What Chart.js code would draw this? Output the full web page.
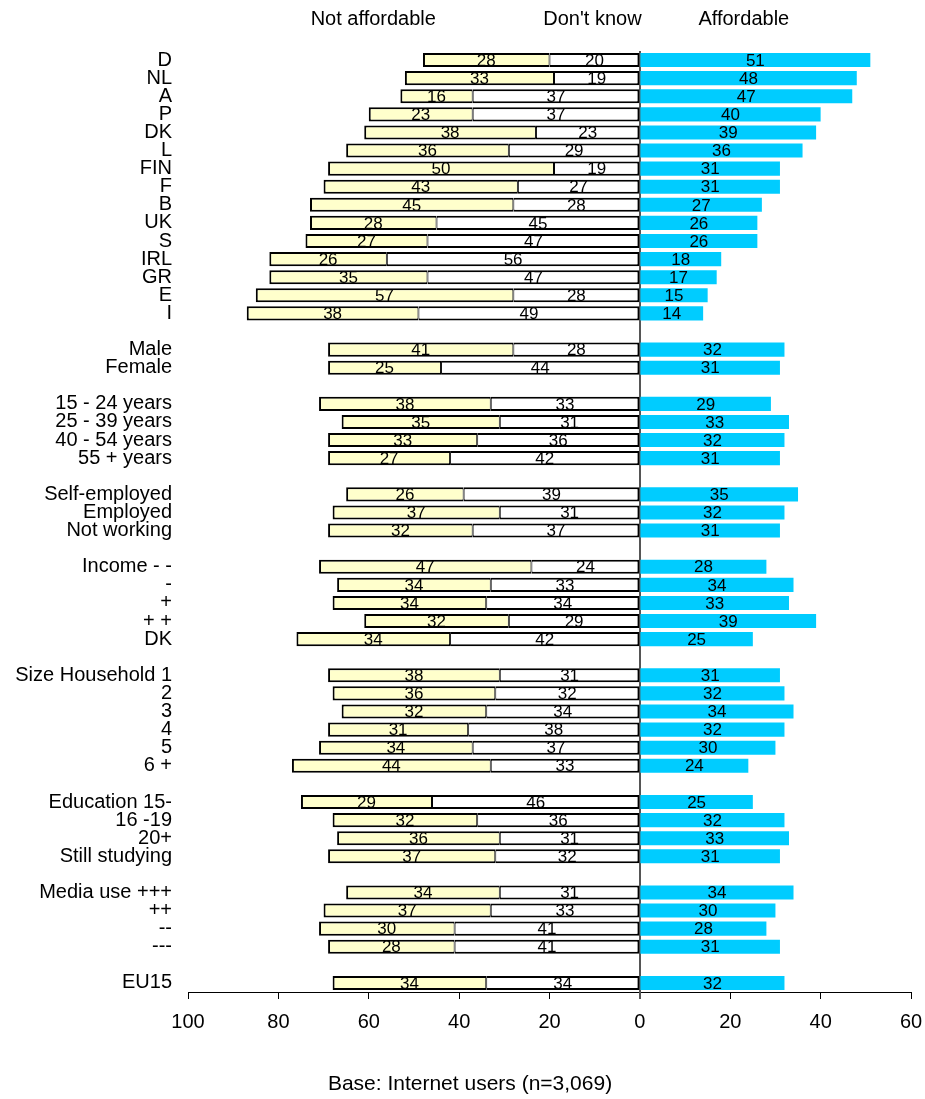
<!DOCTYPE html>
<html>
<head>
<meta charset="utf-8">
<script src="https://cdn.jsdelivr.net/npm/chart.js@4.4.1/dist/chart.umd.min.js"></script>
<style>
  html, body { margin: 0; padding: 0; background: #fff; }
</style>
</head>
<body>
<canvas id="chart" width="925" height="1099"></canvas>
<script>
// --- DATA (blank strings / nulls are the gaps between groups) ---
const categories = [
  'D', 'NL', 'A', 'P', 'DK', 'L', 'FIN', 'F', 'B', 'UK', 'S', 'IRL', 'GR', 'E', 'I', '',
  'Male', 'Female', '',
  '15 - 24 years', '25 - 39 years', '40 - 54 years', '55 + years', '',
  'Self-employed', 'Employed', 'Not working', '',
  'Income - -', '-', '+', '+ +', 'DK', '',
  'Size Household 1', '2', '3', '4', '5', '6 +', '',
  'Education 15-', '16 -19', '20+', 'Still studying', '',
  'Media use +++', '++', '--', '---', '',
  'EU15'
];

const notAffordable = [
  28, 33, 16, 23, 38, 36, 50, 43, 45, 28, 27, 26, 35, 57, 38, null,
  41, 25, null,
  38, 35, 33, 27, null,
  26, 37, 32, null,
  47, 34, 34, 32, 34, null,
  38, 36, 32, 31, 34, 44, null,
  29, 32, 36, 37, null,
  34, 37, 30, 28, null,
  34
];

const dontKnow = [
  20, 19, 37, 37, 23, 29, 19, 27, 28, 45, 47, 56, 47, 28, 49, null,
  28, 44, null,
  33, 31, 36, 42, null,
  39, 31, 37, null,
  24, 33, 34, 29, 42, null,
  31, 32, 34, 38, 37, 33, null,
  46, 36, 31, 32, null,
  31, 33, 41, 41, null,
  34
];

const affordable = [
  51, 48, 47, 40, 39, 36, 31, 31, 27, 26, 26, 18, 17, 15, 14, null,
  32, 31, null,
  29, 33, 32, 31, null,
  35, 32, 31, null,
  28, 34, 33, 39, 25, null,
  31, 32, 34, 32, 30, 24, null,
  25, 32, 33, 31, null,
  34, 30, 28, 31, null,
  32
];

const xTicks = [-100, -80, -60, -40, -20, 0, 20, 40, 60];
const headerLabels = ['Not affordable', "Don't know", 'Affordable'];
const baseNote = 'Base: Internet users (n=3,069)';

const FONT = '"Liberation Sans", Arial, Helvetica, sans-serif';
const COLORS = {
  notAffordable: '#FFFFCC',
  dontKnow: '#FFFFFF',
  affordable: '#00CCFF',
  border: '#000000',
  zeroLine: '#555555'
};

// left-hand values are drawn as negatives so they grow away from 0
const neg = arr => arr.map(v => (v == null ? null : -v));

// numbers in the middle of each segment
const barLabels = {
  id: 'barLabels',
  afterDatasetsDraw(chart) {
    const ctx = chart.ctx;
    ctx.save();
    ctx.font = '17px ' + FONT;
    ctx.fillStyle = '#000';
    ctx.textAlign = 'center';
    ctx.textBaseline = 'middle';
    chart.data.datasets.forEach((ds, i) => {
      chart.getDatasetMeta(i).data.forEach((bar, j) => {
        const v = ds.data[j];
        if (v == null) return;
        const { x, y, base } = bar.getProps(['x', 'y', 'base'], true);
        ctx.fillText(String(Math.abs(v)), (x + base) / 2, y + 1);
      });
    });
    ctx.restore();
  }
};

// zero line, column headers and the base note
const decorations = {
  id: 'decorations',
  beforeDatasetsDraw(chart) {
    const { ctx, chartArea, scales } = chart;
    const x0 = Math.round(scales.x.getPixelForValue(0));
    ctx.save();
    ctx.strokeStyle = COLORS.zeroLine;
    ctx.lineWidth = 2;
    ctx.beginPath();
    ctx.moveTo(x0, chartArea.top);
    ctx.lineTo(x0, chartArea.bottom + 7);
    ctx.stroke();
    ctx.restore();
  },
  afterDraw(chart) {
    const { ctx, scales } = chart;
    const headerAt = [-59, -10.5, 23]; // centre of each header, in axis units
    ctx.save();
    ctx.font = '20px ' + FONT;
    ctx.fillStyle = '#000';
    ctx.textAlign = 'center';
    ctx.textBaseline = 'middle';
    headerLabels.forEach((t, i) => {
      ctx.fillText(t, scales.x.getPixelForValue(headerAt[i]), 19);
    });
    ctx.font = '21px ' + FONT;
    ctx.fillText(baseNote, 470, 1084);
    ctx.restore();
  }
};

Chart.defaults.font.family = FONT;
Chart.defaults.color = '#000';

new Chart(document.getElementById('chart'), {
  type: 'bar',
  data: {
    labels: categories,
    datasets: [
      {
        label: "Don't know",
        data: neg(dontKnow),
        backgroundColor: COLORS.dontKnow,
        borderColor: COLORS.border,
        borderWidth: { top: 2, bottom: 2, left: 1, right: 2 },
        borderSkipped: false,
        stack: 'all'
      },
      {
        label: 'Not affordable',
        data: neg(notAffordable),
        backgroundColor: COLORS.notAffordable,
        borderColor: COLORS.border,
        borderWidth: { top: 2, bottom: 2, left: 2, right: 1 },
        borderSkipped: false,
        stack: 'all'
      },
      {
        label: 'Affordable',
        data: affordable,
        backgroundColor: COLORS.affordable,
        borderWidth: 0,
        stack: 'all'
      }
    ]
  },
  options: {
    indexAxis: 'y',
    responsive: false,
    animation: false,
    devicePixelRatio: 1,
    barPercentage: 0.78,
    categoryPercentage: 1.0,
    layout: { padding: { top: 51, right: 14, bottom: 60, left: 0 } },
    plugins: {
      legend: { display: false },
      tooltip: { enabled: false }
    },
    scales: {
      x: {
        stacked: true,
        min: -100,
        max: 60,
        afterBuildTicks: s => { s.ticks = xTicks.map(v => ({ value: v })); },
        afterFit: s => { s.height = 47; s.paddingLeft = 0; s.paddingRight = 0; },
        ticks: {
          callback: v => Math.abs(v),
          font: { size: 20 },
          color: '#000',
          padding: 11,
          maxRotation: 0
        },
        grid: {
          display: true,
          drawOnChartArea: false,
          drawTicks: true,
          tickLength: 7,
          color: '#000',
          lineWidth: 1
        },
        border: { display: true, color: '#000', width: 1 }
      },
      y: {
        stacked: true,
        afterFit: s => { s.width = 188; },
        ticks: {
          autoSkip: false,
          font: { size: 20 },
          color: '#000',
          padding: 16
        },
        grid: { display: false, drawTicks: false },
        border: { display: false }
      }
    }
  },
  plugins: [decorations, barLabels]
});
</script>
</body>
</html>
